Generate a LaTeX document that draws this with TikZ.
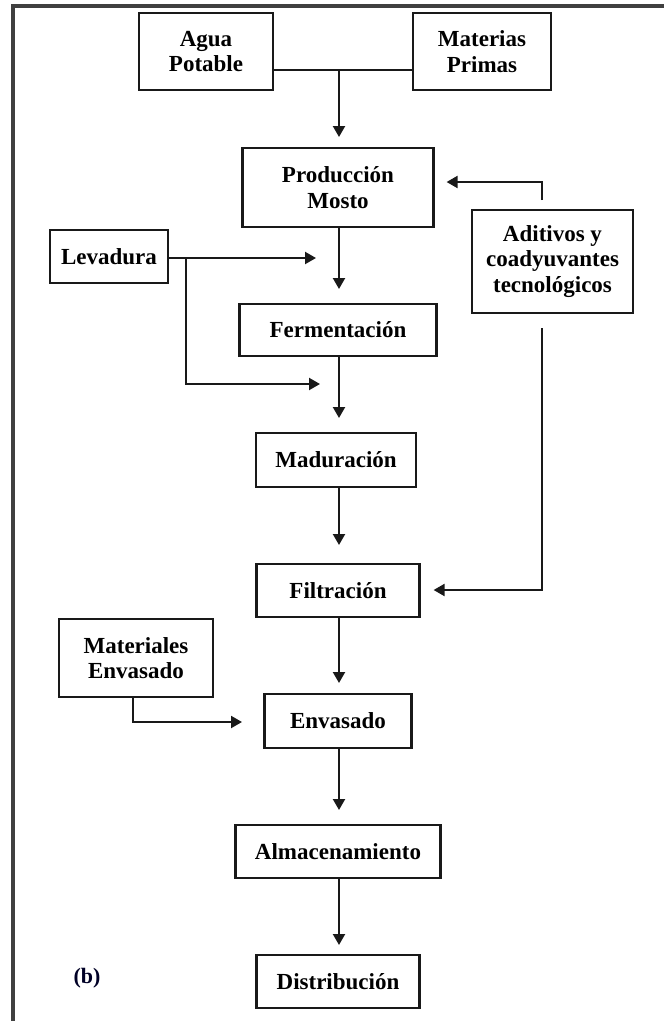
\documentclass[tikz,border=0pt]{standalone}
\usepackage{fontspec}
\setmainfont{Liberation Serif}
\usetikzlibrary{arrows.meta}
\begin{document}
\begin{tikzpicture}[x=1pt,y=-1pt,
  box/.style={draw=black!90,line width=2.2pt,align=center,inner sep=0pt,
    font=\fontsize{23}{25.5}\selectfont\bfseries},
  flow/.style={line width=2.1pt,draw=black!90,-{Triangle[length=11pt,width=12pt]}},
  plain/.style={line width=2.1pt,draw=black!90}]
\useasboundingbox (0,0) rectangle (664,1021);
\fill[white] (0,0) rectangle (664,1021);
% frame
\draw[line width=4pt,draw=black!75] (13,1021) -- (13,6) -- (664,6);
% nodes
\node[box,minimum width=134pt,minimum height=77pt] (agua) at (206,51.5) {Agua\\Potable};
\node[box,minimum width=138pt,minimum height=77pt] (mat) at (482,51.5) {Materias\\Primas};
\node[box,minimum width=191pt,minimum height=79pt] (prod) at (338,187.5) {Producción\\Mosto};
\node[box,minimum width=161pt,minimum height=103pt] (adi) at (552.5,261.5) {Aditivos y\\coadyuvantes\\tecnológicos};
\node[box,minimum width=118pt,minimum height=53pt] (lev) at (109,256.5) {Levadura};
\node[box,minimum width=197pt,minimum height=52pt] (fer) at (338,330) {Fermentación};
\node[box,minimum width=160pt,minimum height=54pt] (mad) at (336,460) {Maduración};
\node[box,minimum width=163pt,minimum height=53pt] (fil) at (338,590.5) {Filtración};
\node[box,minimum width=154pt,minimum height=78pt] (menv) at (136,658) {Materiales\\Envasado};
\node[box,minimum width=147pt,minimum height=54pt] (env) at (338,721) {Envasado};
\node[box,minimum width=205pt,minimum height=53pt] (alm) at (338,851.5) {Almacenamiento};
\node[box,minimum width=163pt,minimum height=53pt] (dis) at (338,981.5) {Distribución};
\node[font=\fontsize{22}{24}\selectfont\bfseries,text=black!85!blue] (b) at (87,978) {(b)};
% coordinates
\coordinate (j1) at (339,70);
\coordinate (levtip) at (316,258);
\coordinate (levbr) at (186,258);
\coordinate (levtip2) at (320,384);
\coordinate (aditop) at (542,200);
\coordinate (adibot) at (542,328);
\coordinate (menvturn) at (133,722);
\coordinate (menvtip) at (242,722);
% connectors
\draw[plain] (agua.east |- j1) -- (mat.west |- j1);
\draw[flow] (j1) -- (339,137);
\draw[flow] (prod.south -| 339,0) -- (339,289);
\draw[flow] (fer.south -| 339,0) -- (339,418);
\draw[flow] (mad.south -| 339,0) -- (339,545);
\draw[flow] (fil.south -| 339,0) -- (339,683);
\draw[flow] (env.south -| 339,0) -- (339,810);
\draw[flow] (alm.south -| 339,0) -- (339,945);
\draw[flow] (lev.east |- levtip) -- (levtip);
\draw[flow] (levbr) -- (levbr |- levtip2) -- (levtip2);
\draw[flow] (aditop) -- (542,182) -- ([xshift=12pt]prod.east |- 0,182);
\draw[flow] (adibot) -- (542,590) -- ([xshift=13pt]fil.east |- 0,590);
\draw[flow] (menv.south -| menvturn) -- (menvturn) -- (menvtip);
\end{tikzpicture}
\end{document}
